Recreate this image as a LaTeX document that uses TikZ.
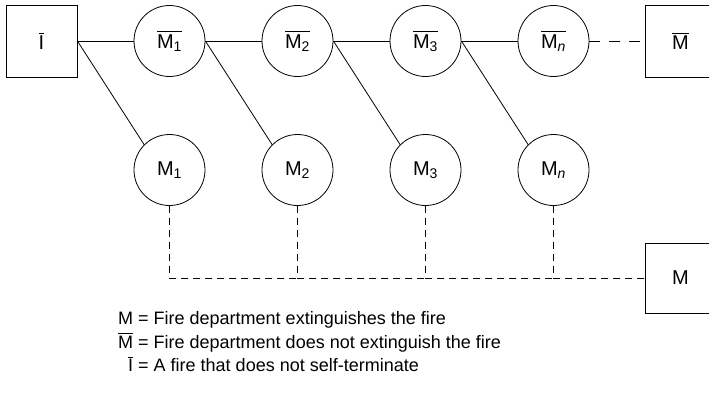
\documentclass[tikz,border=0pt]{standalone}
\usepackage{amsmath}
\usepackage{fontspec}
\setmainfont{Liberation Sans}
\usepackage{tikz}
\usetikzlibrary{positioning}

\newcommand{\ovl}[1]{$\overline{\text{#1}}$}

\tikzset{
  evbox/.style={draw, line width=0.8pt, minimum width=71pt, minimum height=72pt, inner sep=0pt, font=\fontsize{20pt}{24pt}\selectfont},
  evcircle/.style={draw, circle, line width=0.8pt, minimum size=71pt, inner sep=0pt, font=\fontsize{20pt}{24pt}\selectfont},
  dashline/.style={line width=0.8pt, dash pattern=on 7pt off 5pt},
  longdash/.style={line width=0.8pt, dash pattern=on 11pt off 9pt},
  link/.style={line width=0.8pt}
}

\begin{document}
\begin{tikzpicture}[x=1pt, y=1pt, font=\fontsize{18pt}{23.5pt}\selectfont]
    \useasboundingbox (0,0) rectangle (709,392);
    % top row - fire not put out yet
    \node[evbox] (ibar) at (41.5,351) {\ovl{I}};
    \node[evcircle] (mb1) at (169.5,351) {$\overline{\text{M}_{\text{1}}}$};
    \node[evcircle] (mb2) at (297.5,351) {$\overline{\text{M}_{\text{2}}}$};
    \node[evcircle] (mb3) at (425.5,351) {$\overline{\text{M}_{\text{3}}}$};
    \node[evcircle] (mbn) at (553.5,351) {$\overline{\text{M}_{\text{\itshape n}}}$};
    \node[evbox] (mbarbox) at (680.5,351) {\ovl{M}};
    % bottom row - fire department succeeds
    \node[evcircle] (m1) at (169.5,222) {M$_{\text{1}}$};
    \node[evcircle] (m2) at (297.5,222) {M$_{\text{2}}$};
    \node[evcircle] (m3) at (425.5,222) {M$_{\text{3}}$};
    \node[evcircle] (mn) at (553.5,222) {M$_{\text{\itshape n}}$};
    \node[evbox, minimum height=70pt] (mbox) at (680.5,114) {M};
    \coordinate (c1) at (m1 |- mbox);
    \coordinate (c2) at (m2 |- mbox);
    \coordinate (c3) at (m3 |- mbox);
    \coordinate (cn) at (mn |- mbox);

    % horizontal chain
    \draw[link] (ibar) -- (mb1);
    \draw[link] (mb1) -- (mb2);
    \draw[link] (mb2) -- (mb3);
    \draw[link] (mb3) -- (mbn);
    \draw[longdash] (mbn) -- (mbarbox);
    % branches down
    \draw[link] (ibar.east) -- (m1.135);
    \draw[link] (mb1.east) -- (m2.135);
    \draw[link] (mb2.east) -- (m3.135);
    \draw[link] (mb3.east) -- (mn.135);
    % collect into M
    \draw[dashline] (m1) -- (c1) -- (c2);
    \draw[dashline] (m2) -- (c2) -- (c3);
    \draw[dashline] (m3) -- (c3) -- (cn);
    \draw[dashline] (mn) -- (cn) -- (mbox);

    % legend
    \node[anchor=north west, inner sep=0pt] (legend) at (118,84) {%
      \begin{tabular}{@{}r@{ = }l@{}}
        M & Fire department extinguishes the fire\\
        \ovl{M} & Fire department does not extinguish the fire\\
        \ovl{I} & A fire that does not self-terminate
      \end{tabular}};
\end{tikzpicture}
\end{document}
